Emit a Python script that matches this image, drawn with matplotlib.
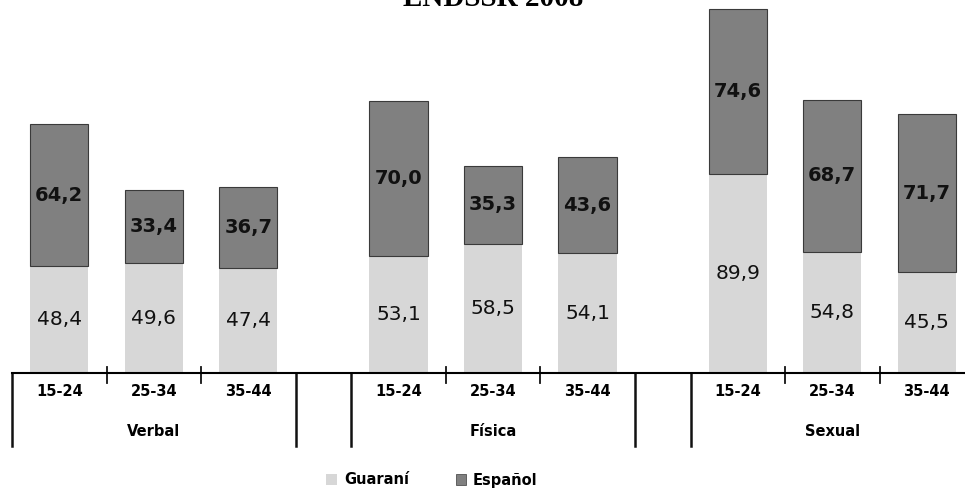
import matplotlib
matplotlib.use("Agg")
import matplotlib.pyplot as plt
import matplotlib.transforms as mtransforms
from matplotlib.patches import Patch

# Data
groups = ["Verbal", "Física", "Sexual"]
ages = ["15-24", "25-34", "35-44"]
guarani = [[48.4, 49.6, 47.4], [53.1, 58.5, 54.1], [89.9, 54.8, 45.5]]
espanol = [[64.2, 33.4, 36.7], [70.0, 35.3, 43.6], [74.6, 68.7, 71.7]]
title = "ENDSSR 2008"

col_gua = "#d7d7d7"
col_esp = "#808080"
font = "DejaVu Sans"

W, H = 965, 497
fig = plt.figure(figsize=(W / 100, H / 100), dpi=100)
ax = fig.add_axes([12 / W, (H - 373) / H, 1 - 12 / W, 373 / H])

gap = 0.59          # blank space between groups, in category units
bar_w = 0.615
starts = [g * (3 + gap) for g in range(len(groups))]

for g, name in enumerate(groups):
    xs = [starts[g] + i + 0.5 for i in range(len(ages))]
    ax.bar(xs, guarani[g], width=bar_w, color=col_gua, linewidth=0)
    ax.bar(xs, espanol[g], width=bar_w, bottom=guarani[g], color=col_esp,
           edgecolor="#3a3a3a", linewidth=0.8)
    for x, gv, ev in zip(xs, guarani[g], espanol[g]):
        ax.text(x, gv / 2, f"{gv:.1f}".replace(".", ","), ha="center", va="center",
                fontsize=14.5, family=font, color="#111111")
        ax.text(x, gv + ev / 2, f"{ev:.1f}".replace(".", ","), ha="center", va="center",
                fontsize=14, family=font, fontweight="bold", color="#111111")

ax.set_ylim(0, 373 / 2.21)
ax.set_xlim(0, (W - 12) / 94.5)

for s in ["top", "right", "left"]:
    ax.spines[s].set_visible(False)
ax.spines["bottom"].set_linewidth(1.5)
ax.set_yticks([])
ax.set_xticks([])

trans = mtransforms.blended_transform_factory(ax.transData, ax.transAxes)
y_sep = -73 / 373
y_tick = -10 / 373
y_age = -19 / 373
y_grp = -59 / 373

for g, name in enumerate(groups):
    s = starts[g]
    # group separators
    for xb in (s, s + 3):
        ax.plot([xb, xb], [0, y_sep], transform=trans, color="#111111",
                lw=1.8, clip_on=False)
    # short ticks between age categories
    for k in (1, 2):
        ax.plot([s + k, s + k], [0.015, y_tick], transform=trans, color="#111111",
                lw=1.3, clip_on=False)
    for i, a in enumerate(ages):
        ax.text(s + i + 0.5, y_age, a, transform=trans, ha="center", va="center",
                fontsize=10.5, family=font, fontweight="bold")
    ax.text(s + 1.5, y_grp, name, transform=trans, ha="center", va="center",
            fontsize=10.5, family=font, fontweight="bold")

fig.text(493 / W, (H - 6) / H, title, ha="center", va="baseline",
         family="Liberation Serif", fontweight="bold", fontsize=21)

handles = [Patch(facecolor=col_gua, edgecolor="none", label="Guaraní"),
           Patch(facecolor=col_esp, edgecolor="#3a3a3a", linewidth=0.5, label="Español")]
fig.legend(handles=handles, loc="center", bbox_to_anchor=(432 / W, (H - 480) / H),
           ncol=2, frameon=False, prop={"family": font, "weight": "bold", "size": 10.5},
           handlelength=0.7, handleheight=0.7, handletextpad=0.5, columnspacing=3.2)

fig.savefig("out.png", dpi=100, facecolor="white")
